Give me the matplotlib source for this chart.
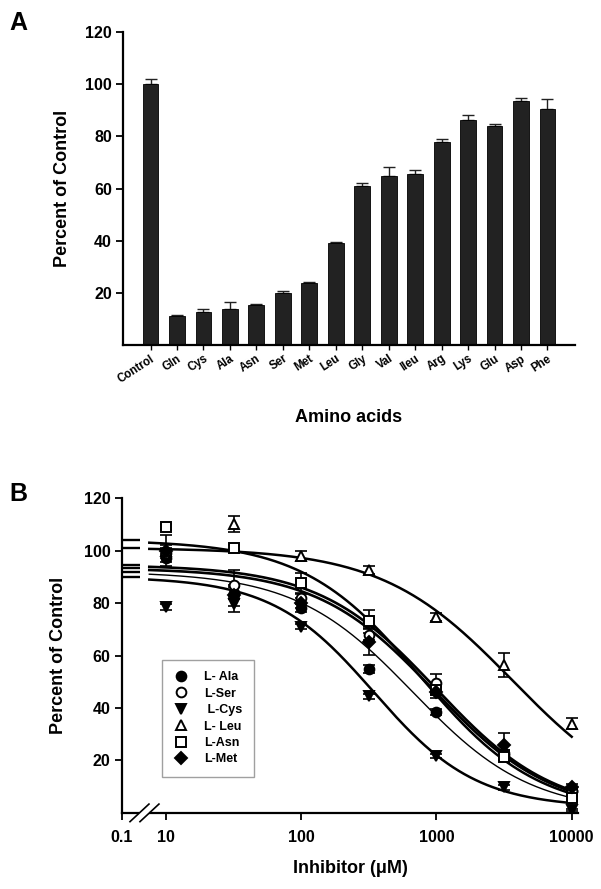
import numpy as np
import matplotlib
matplotlib.use('Agg')
import matplotlib.pyplot as plt

plt.rcParams['font.family'] = ['Liberation Sans', 'DejaVu Sans']
plt.rcParams['font.weight'] = 'bold'

# panel A data
amino = ['Control', 'Gln', 'Cys', 'Ala', 'Asn', 'Ser', 'Met', 'Leu', 'Gly',
         'Val', 'Ileu', 'Arg', 'Lys', 'Glu', 'Asp', 'Phe']
pct = [100, 11, 12.5, 14, 15.2, 19.8, 23.6, 39.3, 61, 64.8, 65.7, 77.9, 86.2, 83.9, 93.7, 90.5]
pct_err = [2, 0.7, 1.4, 2.5, 0.7, 0.8, 0.5, 0.3, 1.0, 3.5, 1.6, 1.1, 2.1, 0.8, 1.0, 4.0]

# panel B data (inhibitor in uM)
conc = [10, 31.6, 100, 316, 1000, 3162, 10000]
ala = [97, 84, 78, 54.7, 38.5, 23, 8.5]
ser = [99, 87, 82, 68, 49.5, 22, 8.5]
cys = [78.5, 79.5, 71, 44.5, 21.7, 9.8, 1.2]
leu = [100, 110, 98, 92.6, 74.8, 56.4, 34]
asn = [109, 101, 87.5, 73, 47, 21.5, 5.6]
met = [100, 83, 80, 65.3, 46, 26, 10]
ala_err = [1.5, 2, 1.5, 1.5, 1, 1, 0.8]
ser_err = [2, 5.5, 2, 2, 3.5, 2, 0.8]
cys_err = [1, 3, 1, 1, 0.8, 1, 0.5]
leu_err = [2, 3, 2, 1.5, 1.5, 4.5, 2]
asn_err = [1, 1, 4, 4.4, 2, 1.5, 1]
met_err = [6, 4, 2, 5, 2, 4.5, 1]

# fitted curve parameters: top, bottom, IC50, hill slope
fit_ala = (92, 0, 670, 1.0)
fit_ser = (94.5, 0, 1000, 1.0)
fit_cys = (90, 2, 345, 1.15)
fit_leu = (101, 0, 3650, 0.9)
fit_asn = (104, 0, 760, 1.0)
fit_met = (93.3, 0, 960, 1.0)

legend_labels = ['L- Ala', 'L-Ser', ' L-Cys', 'L- Leu', 'L-Asn', 'L-Met']


def logistic(x, p):
    top, bot, ic50, h = p
    return bot + (top - bot) / (1 + (x / ic50) ** h)


fig = plt.figure(figsize=(6.01, 8.89), dpi=100)

# ---------------- panel A ----------------
axA = fig.add_axes([0.2047, 0.6119, 0.752, 0.352])
xs = np.arange(len(amino))
axA.bar(xs, pct, width=0.6, color='#222222', edgecolor='black', linewidth=0.6, zorder=2)
axA.errorbar(xs, pct, yerr=[np.zeros(len(pct)), pct_err], fmt='none', ecolor='#222222',
             elinewidth=1.0, capsize=4, capthick=1.0, zorder=1)
axA.set_xlim(-1.04, len(amino) + 0.04)
axA.set_ylim(0, 120)
axA.set_yticks([20, 40, 60, 80, 100, 120])
axA.set_xticks(xs)
axA.set_xticklabels(amino, rotation=33, ha='right', rotation_mode='anchor', fontsize=8.3)
axA.set_ylabel('Percent of Control', fontsize=13, fontweight='bold', labelpad=10)
axA.set_xlabel('Amino acids', fontsize=13, fontweight='bold', labelpad=17)
for s in ['top', 'right']:
    axA.spines[s].set_visible(False)
for s in ['left', 'bottom']:
    axA.spines[s].set_linewidth(1.6)
axA.tick_params(axis='y', direction='out', length=5, width=1.3, labelsize=11.5, pad=3)
axA.tick_params(axis='x', direction='out', length=3.5, width=1.0, pad=2)
fig.text(0.015, 0.966, 'A', fontsize=18, fontweight='bold', va='baseline')

# ---------------- panel B ----------------
axB = fig.add_axes([0.2025, 0.0855, 0.760, 0.3543])
x_left = 10 ** 0.673
x_right = 10 ** 4.05
axB.set_xscale('log')
axB.set_xlim(x_left, x_right)
axB.set_ylim(0, 120)

series = [
    (ala, ala_err, fit_ala, 'o', 'black', 1.0),
    (ser, ser_err, fit_ser, 'o', 'white', 1.9),
    (cys, cys_err, fit_cys, 'v', 'black', 1.8),
    (leu, leu_err, fit_leu, '^', 'white', 1.8),
    (asn, asn_err, fit_asn, 's', 'white', 1.8),
    (met, met_err, fit_met, 'D', 'black', 1.9),
]

# curve segments: before the axis break (value at 0.1 uM) and after it
seg1 = np.array([x_left, 10 ** 0.81])
seg2 = np.logspace(0.877, 4.0, 300)
handles = []
for vals, errs, p, mk, fc, lw in series:
    axB.plot(seg1, [logistic(0.1, p)] * 2, color='black', lw=1.7, solid_capstyle='butt',
             clip_on=False, zorder=2)
    axB.plot(seg2, logistic(seg2, p), color='black', lw=lw, zorder=2)
    axB.errorbar(conc, vals, yerr=errs, fmt='none', ecolor='black', elinewidth=1.2,
                 capsize=4.5, capthick=1.2, zorder=3)
    ms = 7 if mk != 'D' else 6.5
    h, = axB.plot(conc, vals, linestyle='none', marker=mk, markersize=ms,
                  markerfacecolor=fc, markeredgecolor='black', markeredgewidth=1.4, zorder=4)
    handles.append(h)

axB.set_xticks([x_left, 10, 100, 1000, 10000])
axB.set_xticklabels(['0.1', '10', '100', '1000', '10000'])
axB.xaxis.set_minor_locator(matplotlib.ticker.NullLocator())
axB.set_yticks([20, 40, 60, 80, 100, 120])
for s in ['top', 'right']:
    axB.spines[s].set_visible(False)
for s in ['left', 'bottom']:
    axB.spines[s].set_linewidth(1.6)
axB.tick_params(axis='both', direction='out', length=5, width=1.3, labelsize=11.5, pad=3)
axB.tick_params(axis='x', pad=7)
axB.set_ylabel('Percent of Control', fontsize=13, fontweight='bold', labelpad=12)
axB.set_xlabel('Inhibitor (\u03bcM)', fontsize=13, fontweight='bold', labelpad=11)

# axis break marks on the x axis
def px2x(px):
    return 10 ** (1 + (px - 166) / 135.5)

axB.plot([px2x(139.5), px2x(149)], [0, 0], color='white', lw=3, clip_on=False, zorder=5,
         solid_capstyle='butt')
for x0 in [130, 140]:
    axB.plot([px2x(x0), px2x(x0 + 19)], [-3.3, 3.4], color='black', lw=1.2,
             clip_on=False, zorder=6)

leg = axB.legend(handles, legend_labels, loc='upper left', bbox_to_anchor=(0.088, 0.485),
                 frameon=True, fancybox=False, edgecolor='#888888', fontsize=9,
                 handlelength=1.2, handletextpad=1.3, labelspacing=0.35,
                 borderpad=0.9, borderaxespad=0)
leg.get_frame().set_linewidth(1.0)
for t in leg.get_texts():
    t.set_fontweight('bold')

fig.text(0.015, 0.436, 'B', fontsize=18, fontweight='bold', va='baseline')

fig.savefig('out.png', dpi=100)
